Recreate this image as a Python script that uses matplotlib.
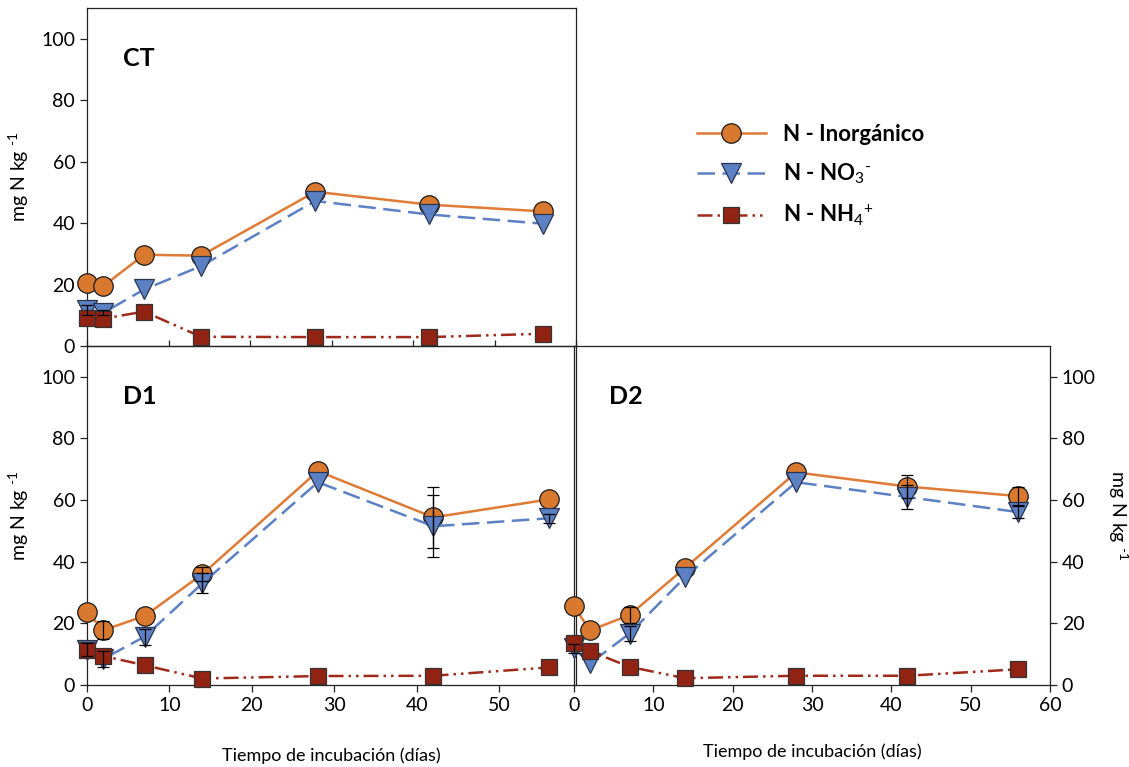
import numpy as np
import matplotlib
matplotlib.use("Agg")
import matplotlib.pyplot as plt

plt.rcParams['font.family'] = ['Lato', 'DejaVu Sans']
plt.rcParams['mathtext.fontset'] = 'custom'
plt.rcParams['mathtext.rm'] = 'Lato'
plt.rcParams['mathtext.bf'] = 'Lato:bold'

# dias de incubacion
dias = [0, 2, 7, 14, 28, 42, 56]

# CT
ct_inorg = [20.4, 19.5, 29.7, 29.4, 50.2, 46.0, 43.8]
ct_no3 = [11.7, 10.8, 18.4, 26.0, 47.2, 42.8, 39.8]
ct_nh4 = [9.2, 8.9, 11.2, 3.0, 2.9, 2.9, 4.0]
ct_inorg_err = [0, 0, 0, 0, 0, 0, 0]
ct_no3_err = [1.5, 0.8, 0, 0, 0, 0, 0]
ct_nh4_err = [0, 0, 0, 0, 0, 0, 0]

# D1
d1_inorg = [23.7, 17.8, 22.4, 36.0, 69.4, 54.4, 60.2]
d1_no3 = [11.5, 8.5, 15.7, 33.0, 65.8, 51.5, 54.1]
d1_nh4 = [11.2, 9.4, 6.4, 2.1, 2.9, 3.0, 5.7]
d1_inorg_err = [0, 3.0, 0, 2.4, 0, 10.0, 0]
d1_no3_err = [2.0, 2.5, 2.6, 3.2, 0, 10.0, 1.5]
d1_nh4_err = [0, 0, 0, 0, 0, 0, 0]

# D2
d2_inorg = [25.6, 17.7, 22.7, 38.0, 69.0, 64.4, 61.3]
d2_no3 = [11.9, 7.0, 16.7, 35.0, 65.8, 61.0, 56.1]
d2_nh4 = [13.5, 11.0, 5.9, 2.2, 3.0, 3.0, 5.1]
d2_inorg_err = [0, 0, 2.6, 0, 0, 3.6, 3.0]
d2_no3_err = [1.5, 0, 2.5, 0, 0, 4.0, 2.0]
d2_nh4_err = [0, 0, 0, 0, 0, 0, 0]

etiquetas = ['N - Inorgánico', 'N - NO$_{3}$$^{\u2010}$', r'N - NH$_{4}$$^{+}$']
ylab = 'mg N kg $^{\u20101}$'
xlab = 'Tiempo de incubación (días)'

estilos = [
    dict(color='#E07B35', ls='-', lw=1.8, marker='o', ms=14, mfc='#D9792F', mec='#1a1a1a', mew=0.9),
    dict(color='#5B80C4', ls=(0, (7, 3)), lw=1.8, marker='v', ms=14, mfc='#5B80C4', mec='#2b3550', mew=0.9),
    dict(color='#A02A1A', ls=(0, (6, 2, 1, 2, 1, 2)), lw=1.8, marker='s', ms=12, mfc='#912313', mec='#333333', mew=0.9),
]

W, H = 1129, 767
fig = plt.figure(figsize=(W / 100, H / 100), dpi=100)

def px(l, t, r, b):
    return [l / W, 1 - b / H, (r - l) / W, (b - t) / H]

ax_ct = fig.add_axes(px(87, 8, 576, 346))
ax_d1 = fig.add_axes(px(87, 346, 576, 685))
ax_d2 = fig.add_axes(px(574, 346, 1050, 685))

def dibujar(ax, series, errores, nombre, xmax):
    for vals, err, st, lab in zip(series, errores, estilos, etiquetas):
        ax.plot(dias, vals, label=lab, clip_on=False, zorder=3, **st)
    for vals, err in zip(series, errores):
        t = [d for d, e in zip(dias, err) if e > 0]
        v = [y for y, e in zip(vals, err) if e > 0]
        e = [e for e in err if e > 0]
        if e:
            ax.errorbar(t, v, yerr=e, fmt='none', ecolor='black', elinewidth=0.9,
                        capsize=4, capthick=0.9, zorder=5, clip_on=False)
    ax.set_xlim(0, xmax)
    ax.set_ylim(0, 110)
    ax.set_yticks(range(0, 101, 20))
    ax.patch.set_visible(False)
    for s in ax.spines.values():
        s.set_linewidth(0.9)
        s.set_color('#222222')
    ax.tick_params(labelsize=14, length=5, width=0.9, color='#222222')
    ax.text(0.074, 0.85, nombre, transform=ax.transAxes, fontsize=18,
            fontweight='bold', va='center', ha='left')

dibujar(ax_ct, [ct_inorg, ct_no3, ct_nh4], [ct_inorg_err, ct_no3_err, ct_nh4_err], 'CT', 60)
dibujar(ax_d1, [d1_inorg, d1_no3, d1_nh4], [d1_inorg_err, d1_no3_err, d1_nh4_err], 'D1', 59.3)
dibujar(ax_d2, [d2_inorg, d2_no3, d2_nh4], [d2_inorg_err, d2_no3_err, d2_nh4_err], 'D2', 60)

ax_ct.set_xticks(range(0, 61, 10))
ax_ct.tick_params(axis='x', labelbottom=False, direction='in', length=4)
ax_d1.set_xticks(range(0, 51, 10))
ax_d2.set_xticks(range(0, 61, 10))
ax_d2.yaxis.tick_right()
ax_d2.yaxis.set_label_position('right')

ax_ct.set_ylabel(ylab, fontsize=14, va='center')
ax_ct.yaxis.set_label_coords(-0.141, 0.5)
ax_d1.set_ylabel(ylab, fontsize=14, va='center')
ax_d1.yaxis.set_label_coords(-0.141, 0.5)
ax_d2.set_ylabel(ylab, fontsize=14, rotation=270, va='center')
ax_d2.yaxis.set_label_coords(1.143, 0.5)

ax_d1.set_xlabel(xlab, fontsize=13)
ax_d1.xaxis.set_label_coords(0.5, -0.185)
ax_d2.set_xlabel(xlab, fontsize=13)
ax_d2.xaxis.set_label_coords(0.5, -0.172)

h, l = ax_ct.get_legend_handles_labels()
fig.legend(h, l, loc='center left', bbox_to_anchor=(697 / W, 1 - 176 / H),
           frameon=False, prop={'size': 16, 'weight': 'bold'}, handlelength=3.1,
           handletextpad=0.75, labelspacing=0.75, borderpad=0, borderaxespad=0)

fig.savefig('out.png', dpi=100)
